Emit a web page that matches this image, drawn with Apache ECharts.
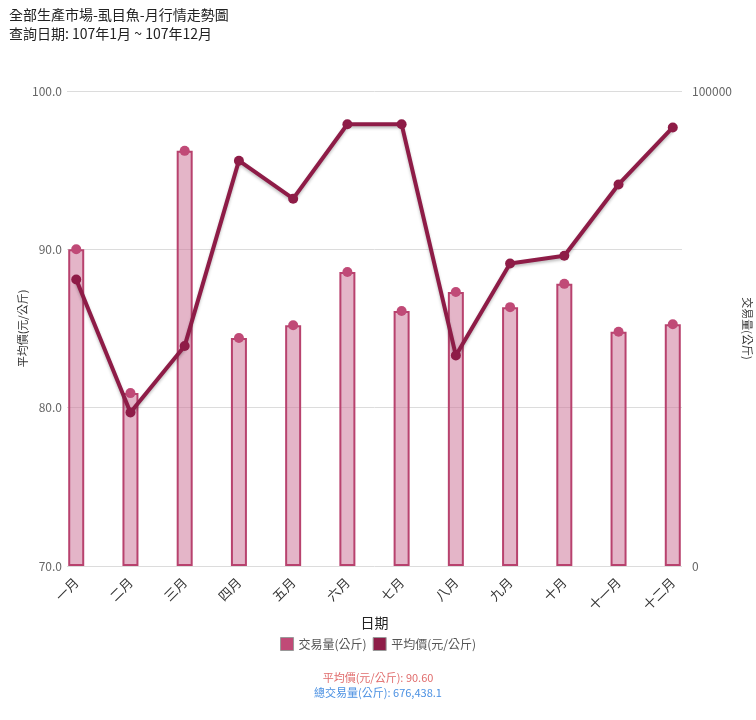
<!DOCTYPE html>
<html><head><meta charset="utf-8">
<script src="https://cdn.jsdelivr.net/npm/echarts@6/dist/echarts.min.js"></script>
<style>html,body{margin:0;padding:0;background:#fff;overflow:hidden}#c{width:756px;height:720px}</style>
</head><body><div id="c"></div>
<script>
var categories = ['一月','二月','三月','四月','五月','六月','七月','八月','九月','十月','十一月','十二月'];
var volume = [66700, 36400, 87400, 48000, 50700, 61900, 53700, 57700, 54500, 59400, 49300, 50900];
var price = [88.1, 79.7, 83.9, 95.6, 93.2, 97.9, 97.9, 83.3, 89.1, 89.6, 94.1, 97.7];
var avgPriceText = '平均價(元/公斤): 90.60';
var totalVolText = '總交易量(公斤): 676,438.1';

var font = '"Noto Sans CJK TC", "Noto Sans", sans-serif';
var chart = echarts.init(document.getElementById('c'));
chart.setOption({
  animation: false,
  textStyle: {fontFamily: font},
  title: [
    {text: '全部生產市場-虱目魚-月行情走勢圖\n查詢日期: 107年1月 ~ 107年12月', left: 4, top: 0,
     textStyle: {fontSize: 14, fontWeight: 'normal', color: '#222', lineHeight: 19, fontFamily: font}},
    {text: avgPriceText, left: 'center', top: 667,
     textStyle: {fontSize: 11, fontWeight: 'normal', color: '#e06c6c', fontFamily: font}},
    {text: totalVolText, left: 'center', top: 682,
     textStyle: {fontSize: 11, fontWeight: 'normal', color: '#4a90e2', fontFamily: font}}
  ],
  legend: {
    top: 632, left: 'center', itemWidth: 13, itemHeight: 13, itemGap: 6,
    textStyle: {fontSize: 12, color: '#555'},
    data: [
      {name: '交易量(公斤)', icon: 'rect', itemStyle: {color: '#c04a77', borderColor: '#999', borderWidth: 1}},
      {name: '平均價(元/公斤)', icon: 'rect', itemStyle: {color: '#8e1c47', borderColor: '#999', borderWidth: 1}}
    ]
  },
  grid: {left: 67, right: 74, top: 91, bottom: 154, containLabel: false, outerBoundsMode: 'none'},
  xAxis: {
    type: 'value', min: -0.17, max: 11.17,
    name: '日期', nameLocation: 'middle', nameGap: 50, nameMoveOverlap: false,
    nameTextStyle: {fontSize: 14, color: '#222'},
    axisLine: {show: false}, axisTick: {show: false}, splitLine: {show: false},
    axisLabel: {
      customValues: categories.map(function (c, i) { return i; }),
      rotate: 45, fontSize: 13, color: '#333', margin: 14,
      formatter: function (v) { return categories[Math.round(v)] || ''; }
    }
  },
  yAxis: [
    {type: 'value', min: 70, max: 100, interval: 10, position: 'left',
     name: '平均價(元/公斤)', nameLocation: 'middle', nameGap: 39, nameRotate: 90, nameMoveOverlap: false,
     nameTextStyle: {fontSize: 11, color: '#333'},
     axisLine: {show: false}, axisTick: {show: false},
     axisLabel: {color: '#666', fontSize: 12, margin: 5, formatter: function (v) { return v.toFixed(1); }},
     splitLine: {lineStyle: {color: '#dcdcdc', width: 1}}},
    {type: 'value', min: 0, max: 100000, interval: 100000, position: 'right',
     name: '交易量(公斤)', nameLocation: 'middle', nameGap: 60, nameRotate: -90, nameMoveOverlap: false,
     nameTextStyle: {fontSize: 11, color: '#333'},
     axisLine: {show: false}, axisTick: {show: false},
     axisLabel: {color: '#666', fontSize: 12, margin: 10, formatter: function (v) { return String(v); }},
     splitLine: {show: false}}
  ],
  series: [
    {name: '交易量(公斤)', type: 'bar', yAxisIndex: 1, barWidth: 16,
     data: volume.map(function (v, i) { return [i, v]; }),
     itemStyle: {color: 'rgba(205,120,155,0.55)', borderColor: '#b8426e', borderWidth: 2}, z: 2},
    {name: '交易量(公斤)', type: 'scatter', yAxisIndex: 1, symbolSize: 10,
     data: volume.map(function (v, i) { return [i, v]; }),
     itemStyle: {color: '#c04a77', opacity: 1}, z: 3},
    {name: '平均價(元/公斤)', type: 'line', yAxisIndex: 0, symbol: 'circle', symbolSize: 10,
     data: price.map(function (v, i) { return [i, v]; }),
     lineStyle: {color: '#8e1c47', width: 4, shadowColor: 'rgba(0,0,0,0.25)', shadowBlur: 3, shadowOffsetY: 2},
     itemStyle: {color: '#8e1c47'}, z: 4}
  ]
});
</script></body></html>
